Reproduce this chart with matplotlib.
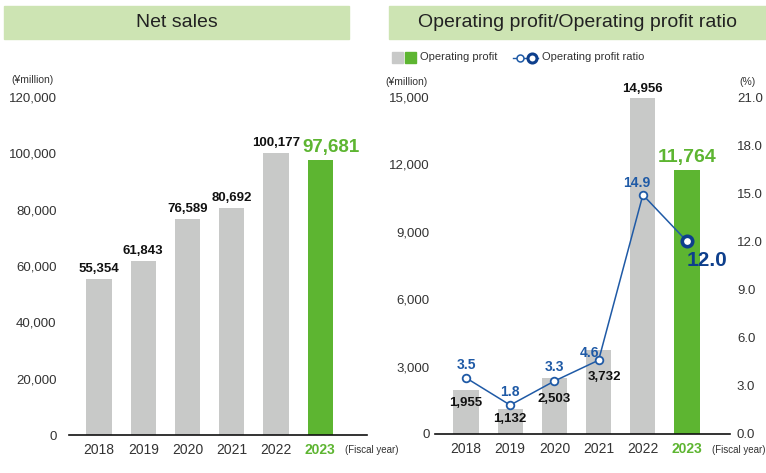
import numpy as np
import matplotlib
matplotlib.use("Agg")
import matplotlib.pyplot as plt
from matplotlib.patches import Rectangle
from matplotlib.lines import Line2D

plt.rcParams['font.family'] = ['Liberation Sans', 'DejaVu Sans']

years = ["2018", "2019", "2020", "2021", "2022", "2023"]
net_sales = [55354, 61843, 76589, 80692, 100177, 97681]
op_profit = [1955, 1132, 2503, 3732, 14956, 11764]
op_ratio = [3.5, 1.8, 3.3, 4.6, 14.9, 12.0]

GRAY = "#c8c9c8"
GREEN = "#5db531"
BLUE = "#1f5aa6"
DBLUE = "#0e3f8c"
TITLEBG = "#cde4b3"
TXT = "#333333"

W, H = 766, 473
fig = plt.figure(figsize=(W / 100, H / 100), dpi=100)


def px_axes(x0, y0, x1, y1):
    # pixel box (top-left origin) -> figure axes
    return fig.add_axes([x0 / W, 1 - y1 / H, (x1 - x0) / W, (y1 - y0) / H])


def title_box(x0, x1, text):
    fig.patches.append(Rectangle((x0 / W, 1 - 39 / H), (x1 - x0) / W, 33 / H,
                                 transform=fig.transFigure, color=TITLEBG, zorder=0))
    fig.text((x0 + x1) / 2 / W, 1 - 22.5 / H, text, ha="center", va="center",
             fontsize=14, color="#222222")


def style_axis(ax):
    for s in ["left", "right", "top"]:
        ax.spines[s].set_visible(False)
    ax.spines["bottom"].set_color("#111111")
    ax.spines["bottom"].set_linewidth(1.2)
    ax.tick_params(axis="both", length=0, colors=TXT)
    ax.tick_params(axis="y", labelsize=9.5)
    ax.tick_params(axis="x", pad=6, labelsize=10)
    ax.set_xticks(range(len(years)))
    ax.set_xticklabels(years)
    lab = ax.get_xticklabels()[-1]
    lab.set_color(GREEN)
    lab.set_fontweight("bold")


x = np.arange(len(years))
colors = [GRAY] * 5 + [GREEN]

# ---- Net sales ----
title_box(4, 349, "Net sales")
ax1 = px_axes(69, 97, 367, 435)
ax1.bar(x, net_sales, width=0.57, color=colors)
ax1.set_xlim(-0.68, 6.06)
ax1.set_ylim(0, 120000)
ax1.set_yticks(np.arange(0, 120001, 20000))
ax1.set_yticklabels([f"{v:,}" for v in range(0, 120001, 20000)])
ax1.tick_params(axis="y", pad=9)
style_axis(ax1)
for i, v in enumerate(net_sales[:5]):
    ax1.annotate(f"{v:,}", (i, v), xytext=(0, 4), textcoords="offset pixels",
                 ha="center", va="bottom", fontsize=9.5, fontweight="bold", color="#111111")
ax1.annotate(f"{net_sales[5]:,}", (5, net_sales[5]), xytext=(11, 4),
             textcoords="offset pixels", ha="center", va="bottom", fontsize=13.5,
             fontweight="bold", color=GREEN)
fig.text(32 / W, 1 - 80 / H, "(¥million)", ha="center", va="center", fontsize=7.5, color=TXT)
fig.text(345 / W, 1 - 450 / H, "(Fiscal year)", ha="left", va="center", fontsize=7, color=TXT)

# ---- Operating profit / ratio ----
title_box(389, 766, "Operating profit/Operating profit ratio")
ax2 = px_axes(435, 97, 730, 434)
ax2.bar(x, op_profit, width=0.57, color=colors, zorder=1)
ax2.set_xlim(-0.70, 5.97)
ax2.set_ylim(0, 15000)
ax2.set_yticks(np.arange(0, 15001, 3000))
ax2.set_yticklabels([f"{v:,}" for v in range(0, 15001, 3000)])
ax2.tick_params(axis="y", pad=4)
style_axis(ax2)

ax3 = ax2.twinx()
ax3.set_ylim(0, 21)
ax3.set_yticks(np.arange(0, 21.01, 3))
ax3.set_yticklabels([f"{v:.1f}" for v in np.arange(0, 21.01, 3)])
for s in ["left", "right", "top", "bottom"]:
    ax3.spines[s].set_visible(False)
ax3.tick_params(axis="y", length=0, labelsize=9.5, colors=TXT, pad=5)
ax3.plot(x, op_ratio, color=BLUE, linewidth=1.1, zorder=3)
ax3.plot(x[:5], op_ratio[:5], "o", markersize=5.5, markerfacecolor="white",
         markeredgecolor=BLUE, markeredgewidth=1.3, zorder=4)
ax3.plot(x[5], op_ratio[5], "o", markersize=7.5, markerfacecolor="white",
         markeredgecolor=DBLUE, markeredgewidth=2.6, zorder=4)

# profit labels for small bars sit under the ratio markers
prof_off = [(0, -25), (0, -14), (0, -18), (6, -17)]
for i in range(4):
    dx, dy = prof_off[i]
    ax3.annotate(f"{op_profit[i]:,}", (i, op_ratio[i]), xytext=(dx, dy),
                 textcoords="offset pixels", ha="center", va="center", fontsize=9.5,
                 fontweight="bold", color="#111111", zorder=5)
ax2.annotate(f"{op_profit[4]:,}", (4, op_profit[4]), xytext=(0, 3),
             textcoords="offset pixels", ha="center", va="bottom", fontsize=9.5,
             fontweight="bold", color="#111111")
ax2.annotate(f"{op_profit[5]:,}", (5, op_profit[5]), xytext=(0, 4),
             textcoords="offset pixels", ha="center", va="bottom", fontsize=14,
             fontweight="bold", color=GREEN)

# ratio labels
ratio_off = [(0, 13), (0, 13), (0, 14), (-9, 7), (-6, 12)]
for i in range(5):
    dx, dy = ratio_off[i]
    ax3.annotate(f"{op_ratio[i]:.1f}", (i, op_ratio[i]), xytext=(dx, dy),
                 textcoords="offset pixels", ha="center", va="center", fontsize=10,
                 fontweight="bold", color=BLUE, zorder=5)
ax3.annotate(f"{op_ratio[5]:.1f}", (5, op_ratio[5]), xytext=(20, -19),
             textcoords="offset pixels", ha="center", va="center", fontsize=15,
             fontweight="bold", color=DBLUE, zorder=5)

fig.text(406 / W, 1 - 82 / H, "(¥million)", ha="center", va="center", fontsize=7.5, color=TXT)
fig.text(747 / W, 1 - 82 / H, "(%)", ha="center", va="center", fontsize=7.5, color=TXT)
fig.text(765 / W, 1 - 450 / H, "(Fiscal year)", ha="right", va="center", fontsize=7, color=TXT)

# legend
fig.patches.append(Rectangle((392 / W, 1 - 63 / H), 11 / W, 11 / H,
                             transform=fig.transFigure, color=GRAY))
fig.patches.append(Rectangle((405 / W, 1 - 63 / H), 11 / W, 11 / H,
                             transform=fig.transFigure, color=GREEN))
fig.text(420 / W, 1 - 57.5 / H, "Operating profit", ha="left", va="center",
         fontsize=8, color=TXT)
fig.lines.append(Line2D([513 / W, 538 / W], [1 - 58 / H, 1 - 58 / H],
                        transform=fig.transFigure, color=BLUE, linewidth=1))
fig.lines.append(Line2D([520 / W], [1 - 58 / H], transform=fig.transFigure, marker="o",
                        markersize=5, markerfacecolor="white", markeredgecolor=BLUE,
                        markeredgewidth=1.1))
fig.lines.append(Line2D([532 / W], [1 - 58 / H], transform=fig.transFigure, marker="o",
                        markersize=6.5, markerfacecolor="white", markeredgecolor=DBLUE,
                        markeredgewidth=2.2))
fig.text(542 / W, 1 - 57.5 / H, "Operating profit ratio", ha="left", va="center",
         fontsize=8, color=TXT)

fig.savefig("out.png", dpi=100)
